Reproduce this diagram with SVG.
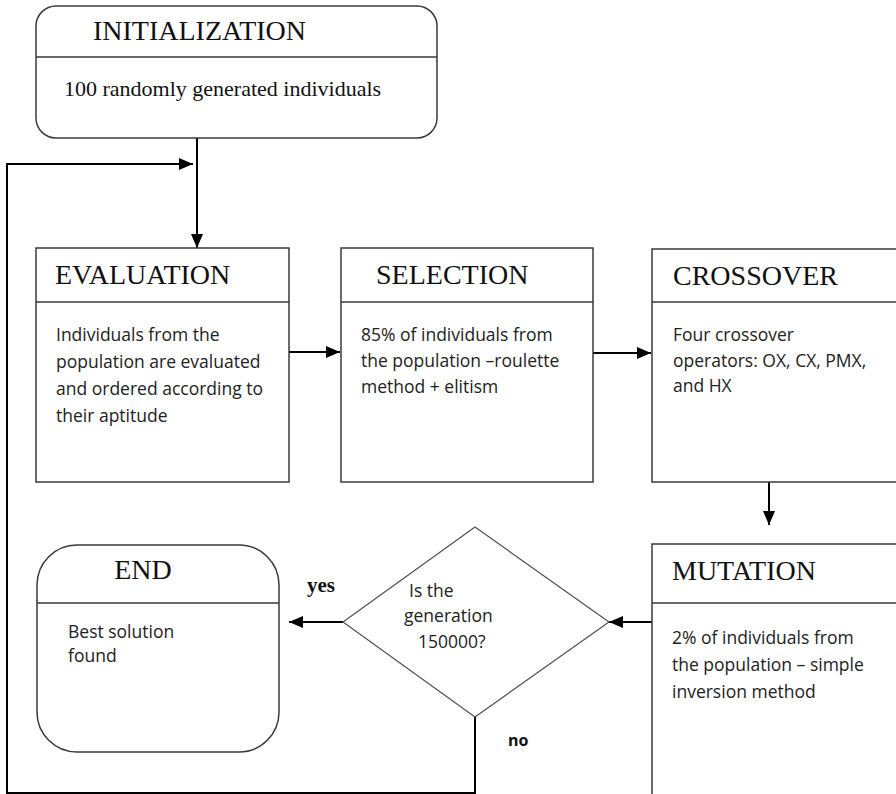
<svg xmlns="http://www.w3.org/2000/svg" width="896" height="794" viewBox="0 0 896 794">
<style>
.box{fill:#fff;stroke:#3a3a3a;stroke-width:1.5}
.div{stroke:#3a3a3a;stroke-width:1.5}
.dia{fill:#fff;stroke:#505050;stroke-width:1.2}
.title{font-family:"Liberation Serif","Times New Roman",serif;font-size:28px;fill:#111}
.serif{font-family:"Liberation Serif","Times New Roman",serif;font-size:22px;fill:#111}
.body{font-family:"Open Sans","Noto Sans",sans-serif;font-size:17.5px;fill:#222}
.conn{fill:none;stroke:#000;stroke-width:2}
.yes{font-family:"Liberation Serif",serif;font-weight:bold;font-size:21px;fill:#111}
.no{font-family:"Open Sans",sans-serif;font-weight:bold;font-size:16px;fill:#111}
</style>
<defs>
<marker id="ah" markerUnits="userSpaceOnUse" markerWidth="14" markerHeight="14" viewBox="0 0 14 14" refX="14" refY="7" orient="auto">
<path d="M0,1 L14,7 L0,13 z" fill="#000"/>
</marker>
</defs>
<rect width="896" height="794" fill="#fff"/>

<g id="connectors">
<path class="conn" d="M197,138 L197,248" marker-end="url(#ah)"/>
<path class="conn" d="M475,717 L475,793 L7,793 L7,164 L193,164" marker-end="url(#ah)"/>
<path class="conn" d="M289,352 L340,352" marker-end="url(#ah)"/>
<path class="conn" d="M593,353 L651,353" marker-end="url(#ah)"/>
<path class="conn" d="M769,482 L769,525" marker-end="url(#ah)"/>
<path class="conn" d="M652,622 L609,622" marker-end="url(#ah)"/>
<path class="conn" d="M343,622 L289,622" marker-end="url(#ah)"/>
</g>

<g id="initialization">
<rect class="box" x="36" y="6" width="401" height="132" rx="20" ry="20"/>
<line class="div" x1="36" y1="57" x2="437" y2="57"/>
<text class="title" x="93" y="40">INITIALIZATION</text>
<text class="serif" x="64" y="96">100 randomly generated individuals</text>
</g>

<g id="evaluation">
<rect class="box" x="36" y="248" width="253" height="234"/>
<line class="div" x1="36" y1="302" x2="289" y2="302"/>
<text class="title" x="55" y="284">EVALUATION</text>
<text class="body" x="56" y="341">Individuals from the</text>
<text class="body" x="56" y="368">population are evaluated</text>
<text class="body" x="56" y="395">and ordered according to</text>
<text class="body" x="56" y="422">their aptitude</text>
</g>

<g id="selection">
<rect class="box" x="341" y="248" width="252" height="234"/>
<line class="div" x1="341" y1="302" x2="593" y2="302"/>
<text class="title" x="376" y="284">SELECTION</text>
<text class="body" x="361" y="341">85% of individuals from</text>
<text class="body" x="361" y="367">the population  –roulette</text>
<text class="body" x="361" y="393">method + elitism</text>
</g>

<g id="crossover">
<rect class="box" x="652" y="249" width="260" height="233"/>
<line class="div" x1="652" y1="302" x2="912" y2="302"/>
<text class="title" x="673" y="285">CROSSOVER</text>
<text class="body" x="673" y="341">Four crossover</text>
<text class="body" x="673" y="367">operators: OX, CX, PMX,</text>
<text class="body" x="673" y="392">and HX</text>
</g>

<g id="mutation">
<rect class="box" x="652" y="544" width="260" height="270"/>
<line class="div" x1="652" y1="603" x2="912" y2="603"/>
<text class="title" x="672" y="580">MUTATION</text>
<text class="body" x="672" y="644">2% of individuals from</text>
<text class="body" x="672" y="671">the population  – simple</text>
<text class="body" x="672" y="698">inversion method</text>
</g>

<g id="decision">
<polygon class="dia" points="475,527 609,622 475,717 343,622"/>
<text class="body" x="409" y="597">Is the</text>
<text class="body" x="404" y="622">generation</text>
<text class="body" x="418" y="648">150000?</text>
</g>

<g id="end">
<rect class="box" x="37" y="545" width="242" height="207" rx="40" ry="40"/>
<line class="div" x1="37" y1="603" x2="279" y2="603"/>
<text class="title" x="143" y="579" text-anchor="middle">END</text>
<text class="body" x="68" y="638">Best solution</text>
<text class="body" x="68" y="662">found</text>
</g>

<g id="labels">
<text class="yes" x="307" y="592">yes</text>
<text class="no" x="508" y="746">no</text>
</g>
</svg>
